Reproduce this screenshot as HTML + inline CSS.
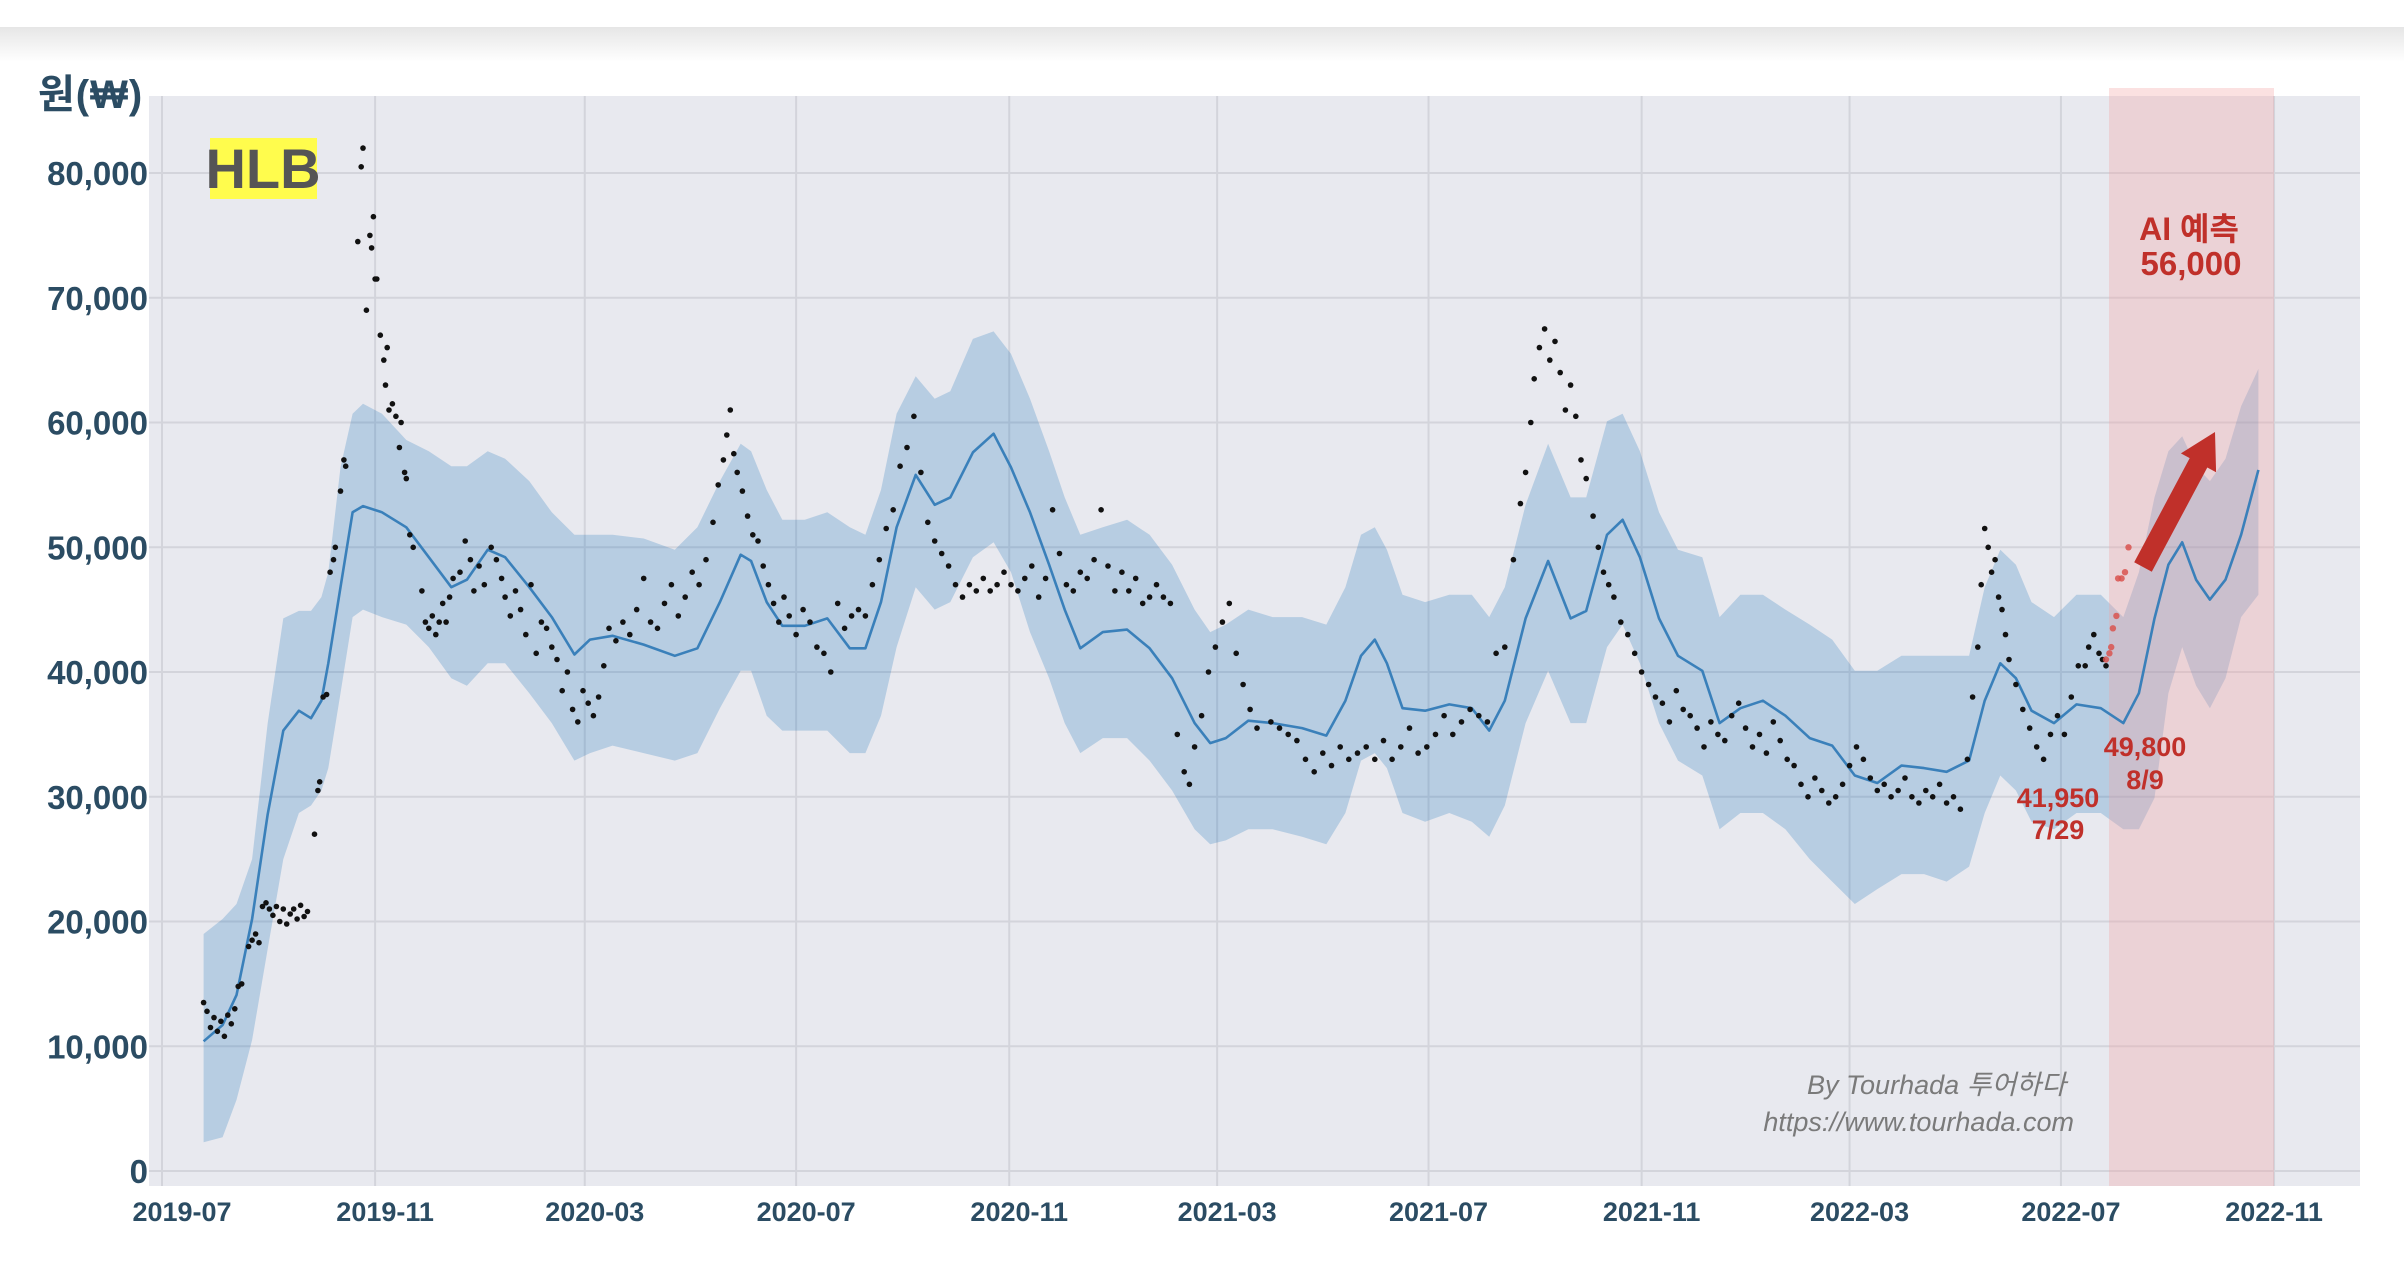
<!DOCTYPE html>
<html><head><meta charset="utf-8"><style>
html,body{margin:0;padding:0;background:#fff;width:2404px;height:1283px;overflow:hidden}
svg{display:block}
text{font-family:"Liberation Sans","Noto Sans CJK KR",sans-serif}
</style></head><body>
<svg id="chart" width="2404" height="1283" viewBox="0 0 2404 1283" xmlns="http://www.w3.org/2000/svg">
<defs><linearGradient id="hdr" x1="0" y1="0" x2="0" y2="1"><stop offset="0" stop-color="#e6e6e6"/><stop offset="1" stop-color="#ffffff"/></linearGradient></defs>
<rect x="0" y="0" width="2404" height="27" fill="#fff"/>
<rect x="0" y="27" width="2404" height="35" fill="url(#hdr)"/>
<rect x="149" y="96" width="2211" height="1090" fill="#e8e9ef"/>
<g id="grid"></g>
<g id="band"></g>
<rect x="2109" y="88" width="165" height="1098" fill="#f2a3a3" fill-opacity="0.33"/>
<g id="line"></g>
<g id="dots"></g>
<g id="ylabels"></g>
<g id="xlabels"></g>
<text x="38" y="108" font-size="40" font-weight="bold" fill="#2b4c63" letter-spacing="1">원(₩)</text>
<rect x="210" y="138" width="107" height="61" fill="#fffc4d"/>
<text x="263" y="188" font-size="56" font-weight="bold" fill="#555" text-anchor="middle">HLB</text>
<text x="2189" y="240" font-size="32" font-weight="bold" fill="#c0302a" text-anchor="middle">AI 예측</text>
<text x="2191" y="275" font-size="33" font-weight="bold" fill="#c0302a" text-anchor="middle">56,000</text>
<polygon points="2151.8,571.7 2207.3,467.5 2216.1,472.2 2215,432 2180.9,453.4 2189.7,458.1 2134.2,562.3" fill="#c0302a"/>
<text x="2058" y="807" font-size="27" font-weight="bold" fill="#c0302a" text-anchor="middle">41,950</text>
<text x="2058" y="839" font-size="27" font-weight="bold" fill="#c0302a" text-anchor="middle">7/29</text>
<text x="2145" y="756" font-size="27" font-weight="bold" fill="#c0302a" text-anchor="middle">49,800</text>
<text x="2145" y="789" font-size="27" font-weight="bold" fill="#c0302a" text-anchor="middle">8/9</text>
<text x="2066" y="1094" font-size="27" font-style="italic" fill="#7a7a7a" text-anchor="end">By Tourhada 투어하다</text>
<text x="2074" y="1131" font-size="27" font-style="italic" fill="#7a7a7a" text-anchor="end">https://www.tourhada.com</text>
</svg>
<script>
const yTicks=[0,10000,20000,30000,40000,50000,60000,70000,80000];
const xTickLabels=["2019-07","2019-11","2020-03","2020-07","2020-11","2021-03","2021-07","2021-11","2022-03","2022-07","2022-11"];
const lineDays=[24,35,43,52,61,70,79,86,92,96,103,110,116,127,141,154,167,176,188,198,212,225,238,247,260,278,296,309,322,334,340,349,358,371,384,397,406,415,424,435,446,455,468,480,490,501,512,521,530,543,557,570,583,596,605,614,627,641,658,672,683,692,700,707,716,729,743,756,766,775,787,800,813,822,834,843,853,864,875,889,899,911,924,937,951,964,977,990,1004,1017,1030,1043,1052,1061,1070,1079,1092,1105,1119,1132,1141,1150,1158,1166,1174,1182,1191,1200,1210];
const yhat=[10.4,11.7,14.1,20.2,28.6,35.3,36.9,36.3,37.7,40.7,46.8,52.8,53.3,52.8,51.6,49.2,46.8,47.4,49.8,49.2,46.8,44.4,41.4,42.6,42.9,42.2,41.3,41.9,45.6,49.4,48.9,45.6,43.7,43.7,44.3,41.9,41.9,45.6,51.6,55.8,53.4,54,57.6,59.1,56.4,52.8,48.6,45,41.9,43.2,43.4,41.9,39.5,35.9,34.3,34.7,36.1,35.9,35.5,34.9,37.7,41.3,42.6,40.7,37.1,36.9,37.4,37.1,35.3,37.7,44.3,48.9,44.3,44.9,51,52.2,49.2,44.3,41.3,40.1,35.9,37.1,37.7,36.5,34.7,34.1,31.7,31.1,32.5,32.3,32,32.9,37.7,40.7,39.5,36.9,35.9,37.4,37.1,35.9,38.3,44.3,48.6,50.4,47.4,45.8,47.4,51,56.2];
const yUpper=[19,20.2,21.4,25,35.9,44.3,44.9,44.9,46,48,56.4,60.7,61.5,60.7,58.6,57.7,56.5,56.5,57.7,57.1,55.3,52.8,51,51,51,50.7,49.8,51.6,55.3,58.3,57.7,54.6,52.2,52.2,52.8,51.6,51,54.6,60.7,63.7,61.9,62.5,66.7,67.3,65.5,61.9,57.7,54,51,51.6,52.2,51,48.6,45,43.2,43.8,45,44.4,44.4,43.8,46.8,51,51.6,49.8,46.2,45.6,46.2,46.2,44.4,46.8,53.4,58.3,54,54,60.1,60.7,57.7,52.8,49.8,49.2,44.4,46.2,46.2,45,43.8,42.6,40.1,40.1,41.3,41.3,41.3,41.3,46.8,49.8,48.6,45.6,44.4,46.2,46.2,44.4,48,54,57.7,58.9,56.5,55.3,57.1,61.3,64.3];
const yLower=[2.3,2.7,5.7,10.5,17.8,25,28.7,29.3,30.5,32.3,38.3,44.4,45,44.4,43.8,42,39.5,38.9,40.7,40.7,38.3,35.9,32.9,33.5,34.1,33.5,32.9,33.5,37.1,40.1,40.1,36.5,35.3,35.3,35.3,33.5,33.5,36.5,42,46.8,45,45.6,49.2,50.4,48,43.2,39.5,35.9,33.5,34.7,34.7,32.9,30.5,27.4,26.2,26.5,27.4,27.4,26.8,26.2,28.7,32.9,33.5,32.3,28.7,28,28.7,28,26.8,29.3,35.9,40.1,35.9,35.9,42,43.8,40.7,35.9,32.9,31.7,27.4,28.7,28.7,27.4,25,23.2,21.4,22.6,23.8,23.8,23.2,24.4,28.7,31.7,30.5,28,27.4,28.7,28.7,27.4,27.4,29.9,38.3,42,38.9,37.1,39.5,44.4,46.2];
const dotDays=[24,26,28,30,32,34,36,38,40,42,44,46,50,52,54,56,58,60,62,64,66,68,70,72,74,76,78,80,82,84,88,90,91,93,95,97,99,100,103,105,106,113,115,116,118,120,121,122,123,124,126,128,129,130,131,133,135,137,138,140,141,143,145,150,152,154,156,158,160,162,164,166,168,172,175,178,180,183,186,190,193,196,198,201,204,207,210,213,216,219,222,225,228,231,234,237,240,243,246,249,252,255,258,262,266,270,274,278,282,286,290,294,298,302,306,310,314,318,321,324,326,328,330,332,335,338,341,344,347,350,353,356,359,362,366,370,374,378,382,386,390,394,398,402,406,410,414,418,422,426,430,434,438,442,446,450,454,458,462,466,470,474,478,482,486,490,494,498,502,506,510,514,518,522,526,530,534,538,542,546,550,554,558,562,566,570,574,578,582,586,590,593,596,600,604,608,612,616,620,624,628,632,640,645,650,655,660,665,670,675,680,685,690,695,700,705,710,715,720,725,730,735,740,745,750,755,760,765,770,775,780,784,787,790,792,795,798,801,804,807,810,813,816,819,822,826,829,832,835,838,842,846,850,854,858,862,866,870,874,878,882,886,890,894,898,902,906,910,914,918,922,926,930,934,938,942,946,950,954,958,962,966,970,974,978,982,986,990,994,998,1002,1006,1010,1014,1018,1022,1026,1030,1034,1038,1042,1045,1048,1050,1052,1054,1056,1058,1060,1062,1064,1066,1070,1074,1078,1082,1086,1090,1094,1098,1102,1106,1110,1112,1115,1118,1120,1122];
const dotValues=[13.5,12.8,11.5,12.3,11.2,12,10.8,12.5,11.8,13,14.8,15,18,18.5,19,18.3,21.2,21.5,21,20.5,21.2,20,21,19.8,20.6,21,20.2,21.3,20.4,20.8,27,30.5,31.2,38,38.2,48,49,50,54.5,57,56.5,74.5,80.5,82,69,75,74,76.5,71.5,71.5,67,65,63,66,61,61.5,60.5,58,60,56,55.5,51,50,46.5,44,43.5,44.5,43,44,45.5,44,46,47.5,48,50.5,49,46.5,48.5,47,50,49,47.5,46,44.5,46.5,45,43,47,41.5,44,43.5,42,41,38.5,40,37,36,38.5,37.5,36.5,38,40.5,43.5,42.5,44,43,45,47.5,44,43.5,45.5,47,44.5,46,48,47,49,52,55,57,59,61,57.5,56,54.5,52.5,51,50.5,48.5,47,45.5,44,46,44.5,43,45,44,42,41.5,40,45.5,43.5,44.5,45,44.5,47,49,51.5,53,56.5,58,60.5,56,52,50.5,49.5,48.5,47,46,47,46.5,47.5,46.5,47,48,47,46.5,47.5,48.5,46,47.5,53,49.5,47,46.5,48,47.5,49,53,48.5,46.5,48,46.5,47.5,45.5,46,47,46,45.5,35,32,31,34,36.5,40,42,44,45.5,41.5,39,37,35.5,36,35.5,35,34.5,33,32,33.5,32.5,34,33,33.5,34,33,34.5,33,34,35.5,33.5,34,35,36.5,35,36,37,36.5,36,41.5,42,49,53.5,56,60,63.5,66,67.5,65,66.5,64,61,63,60.5,57,55.5,52.5,50,48,47,46,44,43,41.5,40,39,38,37.5,36,38.5,37,36.5,35.5,34,36,35,34.5,36.5,37.5,35.5,34,35,33.5,36,34.5,33,32.5,31,30,31.5,30.5,29.5,30,31,32.5,34,33,31.5,30.5,31,30,30.5,31.5,30,29.5,30.5,30,31,29.5,30,29,33,38,42,47,51.5,50,48,49,46,45,43,41,39,37,35.5,34,33,35,36.5,35,38,40.5,40.5,42,43,41.5,41,40.5];
const recentDays=[1122,1124,1125,1126,1128,1129,1131,1133,1135];
const recentValues=[41,41.5,42,43.5,44.5,47.5,47.5,48,50];

const NS="http://www.w3.org/2000/svg";
const X0=162,PXD=1.7326,Y0=1171,PXK=12.475;
const origin=Date.UTC(2019,6,1);
function xDay(d){return X0+d*PXD;}
function yVal(k){return Y0-k*PXK;}
function mk(tag,attrs,parent){const e=document.createElementNS(NS,tag);for(const k in attrs)e.setAttribute(k,attrs[k]);parent.appendChild(e);return e;}
const grid=document.getElementById('grid');
const yl=document.getElementById('ylabels');
yTicks.forEach(v=>{
  const y=yVal(v/1000);
  const l=mk('line',{x1:149,x2:2360,y1:y,y2:y,stroke:'#d3d4db','stroke-width':2},grid);
  
  
  const t=mk('text',{x:148,y:y+12,'font-size':33,'font-weight':'bold',fill:'#2b4c63','text-anchor':'end'},yl);
  t.textContent=v.toLocaleString('en-US');
  
  
});
const xl=document.getElementById('xlabels');
xTickLabels.forEach((s,i)=>{
  const [yy,mm]=s.split('-').map(Number);
  const d=(Date.UTC(yy,mm-1,1)-origin)/86400000;
  const x=xDay(d);
  const l=mk('line',{x1:x,x2:x,y1:96,y2:1186,stroke:'#d3d4db','stroke-width':2},grid);
  
  
  const off=i===0?20:(i===xTickLabels.length-1?0:10);
  const t=mk('text',{x:x+off,y:1221,'font-size':27,'font-weight':'bold',fill:'#2b4c63','text-anchor':'middle'},xl);
  t.textContent=s;
  
  
});
const n=Math.min(lineDays.length,yUpper.length,yLower.length);
let bp='';
for(let i=0;i<n;i++){bp+=(i?'L':'M')+xDay(lineDays[i]).toFixed(1)+','+yVal(yUpper[i]).toFixed(1);}
for(let i=n-1;i>=0;i--){bp+='L'+xDay(lineDays[i]).toFixed(1)+','+yVal(yLower[i]).toFixed(1);}
const band=mk('path',{d:bp+'Z',fill:'#0a6ab4','fill-opacity':0.22},document.getElementById('band'));


let lp='';
lineDays.forEach((d,i)=>{lp+=(i?'L':'M')+xDay(d).toFixed(1)+','+yVal(yhat[i]).toFixed(1);});
const ln=mk('path',{d:lp,fill:'none',stroke:'#3a80ba','stroke-width':2.6,'stroke-linejoin':'round'},document.getElementById('line'));


const dots=document.getElementById('dots');
dotDays.forEach((d,i)=>{
  const c=mk('circle',{cx:xDay(d).toFixed(1),cy:yVal(dotValues[i]).toFixed(1),r:2.8,fill:'#111'},dots);
  
  
});
recentDays.forEach((d,i)=>{
  const c=mk('circle',{cx:xDay(d).toFixed(1),cy:yVal(recentValues[i]).toFixed(1),r:3.2,fill:'#d9534f','fill-opacity':0.85},dots);
  
  
});
</script>
</body></html>
